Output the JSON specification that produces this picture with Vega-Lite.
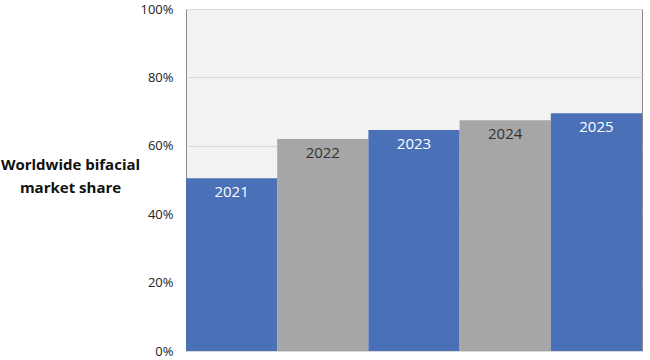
{
  "$schema": "https://vega.github.io/schema/vega-lite/v6.json",
  "width": 456,
  "height": 342,
  "autosize": "none",
  "padding": {"left": 186, "top": 9, "right": 8, "bottom": 9},
  "background": "white",
  "config": {
    "view": {"fill": "#f2f2f2", "stroke": "#8c8c8c", "strokeWidth": 1},
    "font": "Open Sans"
  },
  "data": {
    "values": [
      {"year": "2021", "share": 0.505, "kind": "blue"},
      {"year": "2022", "share": 0.62, "kind": "gray"},
      {"year": "2023", "share": 0.646, "kind": "blue"},
      {"year": "2024", "share": 0.675, "kind": "gray"},
      {"year": "2025", "share": 0.695, "kind": "blue"}
    ]
  },
  "encoding": {
    "x": {
      "field": "year", "type": "nominal",
      "scale": {"paddingInner": 0, "paddingOuter": 0},
      "axis": null
    },
    "y": {
      "field": "share", "type": "quantitative",
      "scale": {"domain": [0, 1], "nice": false},
      "axis": {
        "format": ".0%",
        "values": [0, 0.2, 0.4, 0.6, 0.8, 1],
        "labelOverlap": false,
        "labelFlush": false,
        "labelBound": false,
        "ticks": false,
        "domain": false,
        "grid": true,
        "gridColor": "#d9d9d9",
        "gridWidth": 1,
        "labelPadding": 13,
        "labelFontSize": 13,
        "labelColor": "#222222",
        "labelFont": "Open Sans",
        "title": ["Worldwide bifacial", "market share"],
        "titleAngle": 0,
        "titleX": -116,
        "titleY": 160,
        "titleAlign": "center",
        "titleBaseline": "alphabetic",
        "titleFontSize": 15,
        "titleFontWeight": "bold",
        "titleFont": "Open Sans",
        "titleColor": "#111111",
        "titleLineHeight": 23
      }
    }
  },
  "layer": [
    {
      "mark": {"type": "bar"},
      "encoding": {
        "color": {
          "field": "kind", "type": "nominal",
          "scale": {"domain": ["blue", "gray"], "range": ["#4a70b8", "#a6a6a6"]},
          "legend": null
        }
      }
    },
    {
      "mark": {"type": "text", "baseline": "middle", "dy": 14, "fontSize": 15, "font": "Open Sans"},
      "encoding": {
        "text": {"field": "year"},
        "color": {
          "field": "kind", "type": "nominal",
          "scale": {"domain": ["blue", "gray"], "range": ["#ffffff", "#333333"]},
          "legend": null
        }
      }
    }
  ],
  "resolve": {"scale": {"color": "independent"}}
}
